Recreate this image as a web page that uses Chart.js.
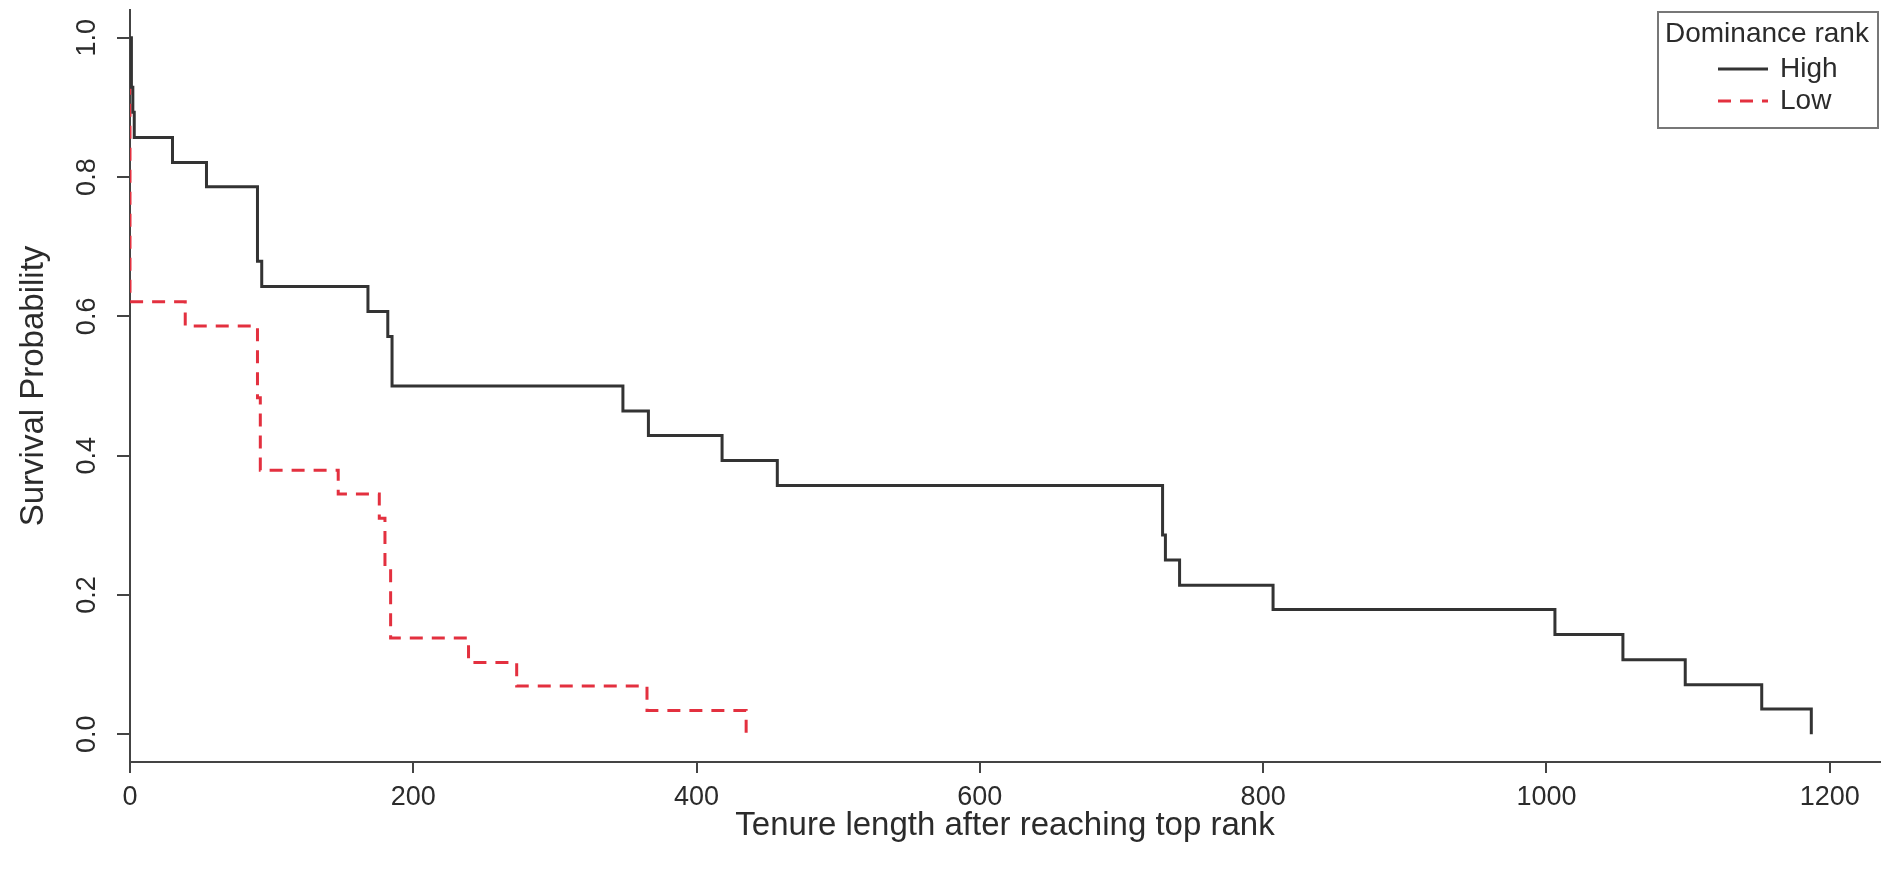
<!DOCTYPE html>
<html>
<head>
<meta charset="utf-8">
<title>Tenure survival by dominance rank</title>
<script src="https://cdn.jsdelivr.net/npm/chart.js@4.4.1/dist/chart.umd.min.js"></script>
<style>
  body { margin: 0; background: #fff; }
</style>
</head>
<body>
<canvas id="kmChart" width="1900" height="880"></canvas>
<script>
'use strict';
// Kaplan-Meier steps (time, survival after the drop)
let highTime = [0, 1, 2, 3, 30, 54, 90, 93, 168, 182, 185, 348, 366, 418, 457, 729, 731, 741, 807, 1006, 1054, 1098, 1152, 1187];
let highSurv = [1.0, 0.929, 0.893, 0.857, 0.821, 0.786, 0.679, 0.643, 0.607, 0.571, 0.5, 0.464, 0.429, 0.393, 0.357, 0.286, 0.25, 0.214, 0.179, 0.143, 0.107, 0.071, 0.036, 0.0];
let lowTime = [0, 0, 39, 90, 92, 147, 176, 180, 184, 239, 273, 365, 435];
let lowSurv = [1.0, 0.621, 0.586, 0.483, 0.379, 0.345, 0.310, 0.241, 0.138, 0.103, 0.069, 0.034, 0.0];
let seriesNames = ['High', 'Low'];
let legendTitle = 'Dominance rank';
let xTicks = [0, 200, 400, 600, 800, 1000, 1200];
let yTicks = [0, 0.2, 0.4, 0.6, 0.8, 1.0];
let xTitle = 'Tenure length after reaching top rank';
let yTitle = 'Survival Probability';

let fontFamily = '"Liberation Sans", Arial, Helvetica, sans-serif';
let textColor = '#2b2b2b';
let axisColor = '#444';

function toPoints(xs, ys) {
    let pts = [];
    for (let i = 0; i < xs.length; i++) {
        pts.push({ x: xs[i], y: ys[i] });
    }
    return pts;
}

// y tick labels in R style (rotated, reading upward)
let yLabelPlugin = {
    id: 'yLabels',
    afterDraw(chart) {
        let ctx = chart.ctx;
        let y = chart.scales.y;
        ctx.save();
        ctx.font = '27px ' + fontFamily;
        ctx.fillStyle = textColor;
        ctx.textAlign = 'center';
        ctx.textBaseline = 'middle';
        for (let i = 0; i < yTicks.length; i++) {
            ctx.save();
            ctx.translate(y.right - 42, y.getPixelForValue(yTicks[i]));
            ctx.rotate(-Math.PI / 2);
            ctx.fillText(yTicks[i].toFixed(1), 0, 0);
            ctx.restore();
        }
        ctx.restore();
    }
};

let legendPlugin = {
    id: 'kmLegend',
    afterDraw(chart) {
        let ctx = chart.ctx;
        let area = chart.chartArea;
        let w = 220, h = 116;
        let x0 = area.right - w - 2;
        let y0 = area.top + 2;
        ctx.save();
        ctx.fillStyle = '#fff';
        ctx.fillRect(x0, y0, w, h);
        ctx.strokeStyle = '#777';
        ctx.lineWidth = 2;
        ctx.strokeRect(x0, y0, w, h);
        ctx.font = '28px ' + fontFamily;
        ctx.fillStyle = textColor;
        ctx.textAlign = 'left';
        ctx.textBaseline = 'middle';
        ctx.fillText(legendTitle, x0 + 7, y0 + 22);
        chart.data.datasets.forEach(function (ds, i) {
            let ly = y0 + 57 + i * 32;
            ctx.strokeStyle = ds.borderColor;
            ctx.lineWidth = ds.borderWidth;
            ctx.setLineDash(ds.borderDash || []);
            ctx.beginPath();
            ctx.moveTo(x0 + 60, ly);
            ctx.lineTo(x0 + 110, ly);
            ctx.stroke();
            ctx.setLineDash([]);
            ctx.fillStyle = textColor;
            ctx.fillText(ds.label, x0 + 122, ly);
        });
        ctx.restore();
    }
};

let ctx = document.getElementById('kmChart').getContext('2d');
let kmChart = new Chart(ctx, {
    type: 'line',
    data: {
        datasets: [{
            label: seriesNames[0],
            data: toPoints(highTime, highSurv),
            stepped: 'before',
            borderColor: '#333',
            borderWidth: 3,
            pointRadius: 0,
            fill: false
        }, {
            label: seriesNames[1],
            data: toPoints(lowTime, lowSurv),
            stepped: 'before',
            borderColor: '#e3303f',
            borderWidth: 3,
            borderDash: [13, 9],
            pointRadius: 0,
            fill: false
        }]
    },
    options: {
        responsive: false,
        animation: false,
        layout: { padding: { top: 10, right: 20, left: 0, bottom: 0 } },
        plugins: {
            legend: { display: false },
            tooltip: { enabled: false }
        },
        scales: {
            x: {
                type: 'linear',
                min: 0,
                max: 1235.5,
                afterBuildTicks: function (scale) {
                    scale.ticks = xTicks.map(v => ({ value: v }));
                },
                afterFit: function (scale) { scale.height = 118; },
                ticks: {
                    font: { size: 27, family: fontFamily },
                    color: textColor,
                    padding: 8,
                    maxRotation: 0,
                    autoSkip: false,
                    callback: function (value) { return String(value); }
                },
                grid: {
                    drawOnChartArea: false,
                    drawTicks: true,
                    tickLength: 11,
                    color: axisColor,
                    lineWidth: 2
                },
                border: { display: true, color: axisColor, width: 2 },
                title: {
                    display: true,
                    text: xTitle,
                    color: textColor,
                    font: { size: 33, family: fontFamily },
                    padding: { top: 0, bottom: 34 }
                }
            },
            y: {
                type: 'linear',
                min: -0.04,
                max: 1.04,
                afterBuildTicks: function (scale) {
                    scale.ticks = yTicks.map(v => ({ value: v }));
                },
                afterFit: function (scale) { scale.width = 130; },
                ticks: { display: false },
                grid: {
                    drawOnChartArea: false,
                    drawTicks: true,
                    tickLength: 13,
                    color: axisColor,
                    lineWidth: 2
                },
                border: { display: true, color: axisColor, width: 2 },
                title: {
                    display: true,
                    text: yTitle,
                    color: textColor,
                    font: { size: 33, family: fontFamily },
                    padding: { top: 14, bottom: 0 }
                }
            }
        }
    },
    plugins: [yLabelPlugin, legendPlugin]
});
</script>
</body>
</html>
